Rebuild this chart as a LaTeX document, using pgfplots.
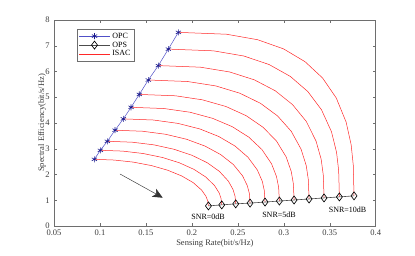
\documentclass[border=0pt]{standalone}
\usepackage{pgfplots}
\pgfplotsset{compat=1.18}
\usepackage{fontspec}
\setmainfont{Liberation Serif}
\usetikzlibrary{arrows.meta}
\definecolor{isac}{RGB}{255,40,40}
\definecolor{opcline}{RGB}{80,80,200}
\definecolor{opcmark}{RGB}{25,25,140}
\definecolor{axgray}{RGB}{110,110,110}
\definecolor{txtgray}{RGB}{60,60,60}
\begin{document}
\begin{tikzpicture}
\useasboundingbox (0,0) rectangle (415pt,255pt);
\begin{axis}[
  at={(54pt,29pt)}, anchor=south west,
  width=321.7pt, height=206pt, scale only axis,
  xmin=0.05, xmax=0.4, ymin=0, ymax=8,
  xtick={0.05,0.1,0.15,0.2,0.25,0.3,0.35,0.4},
  ytick={0,1,2,3,4,5,6,7,8},
  /pgf/number format/assume math mode=true,
  /pgf/number format/fixed,
  tick label style={font=\fontsize{8.5}{10}\selectfont, text=txtgray},
  xticklabel style={yshift=-0.8pt},
  yticklabel style={xshift=-0.8pt},
  label style={font=\fontsize{8.5}{10}\selectfont, text=txtgray},
  axis line style={axgray, line width=0.5pt},
  tick style={axgray, line width=0.4pt},
  major tick length=3pt,
  tick align=inside,
  xlabel={Sensing Rate(bit/s/Hz)},
  ylabel={Spectral Efficiency(bit/s/Hz)},
  xlabel style={at={(axis description cs:0.5,-0.0825)}, anchor=center},
  ylabel style={at={(axis description cs:-0.037,0.5)}, anchor=center},
  legend style={at={(axis description cs:0.0715,0.9563)}, anchor=north west,
    font=\fontsize{8}{9}\selectfont, draw=axgray, line width=0.4pt,
    inner sep=1.5pt, row sep=-1.8pt, text=black},
  legend cell align=left,
  legend image code/.code={\draw[mark repeat=2,mark phase=2] plot coordinates {(0pt,0pt) (15.5pt,0pt) (31pt,0pt)};},
]
% ISAC boundaries
\addplot[isac, line width=0.5pt, forget plot] coordinates {(0.0939,2.590)(0.1154,2.562)(0.1363,2.481)(0.1560,2.347)(0.1737,2.166)(0.1890,1.943)(0.2014,1.685)(0.2105,1.399)(0.2153,1.156)(0.2173,0.969)(0.2180,0.780)};
\addplot[isac, line width=0.5pt, forget plot] coordinates {(0.1004,2.940)(0.1247,2.909)(0.1470,2.815)(0.1678,2.663)(0.1863,2.456)(0.2023,2.199)(0.2152,1.901)(0.2247,1.568)(0.2297,1.283)(0.2318,1.059)(0.2325,0.820)};
\addplot[isac, line width=0.5pt, forget plot] coordinates {(0.1080,3.290)(0.1350,3.255)(0.1588,3.151)(0.1806,2.980)(0.2000,2.748)(0.2166,2.460)(0.2299,2.123)(0.2397,1.744)(0.2448,1.416)(0.2470,1.154)(0.2477,0.860)};
\addplot[isac, line width=0.5pt, forget plot] coordinates {(0.1164,3.720)(0.1463,3.680)(0.1715,3.562)(0.1942,3.369)(0.2143,3.104)(0.2313,2.775)(0.2451,2.389)(0.2551,1.951)(0.2603,1.567)(0.2626,1.257)(0.2633,0.890)};
\addplot[isac, line width=0.5pt, forget plot] coordinates {(0.1254,4.160)(0.1583,4.116)(0.1849,3.985)(0.2086,3.770)(0.2293,3.475)(0.2469,3.107)(0.2610,2.672)(0.2712,2.177)(0.2766,1.737)(0.2788,1.375)(0.2796,0.930)};
\addplot[isac, line width=0.5pt, forget plot] coordinates {(0.1338,4.610)(0.1699,4.562)(0.1979,4.419)(0.2225,4.182)(0.2439,3.858)(0.2619,3.452)(0.2762,2.970)(0.2867,2.415)(0.2921,1.917)(0.2944,1.502)(0.2952,0.970)};
\addplot[isac, line width=0.5pt, forget plot] coordinates {(0.1428,5.110)(0.1821,5.057)(0.2115,4.900)(0.2370,4.642)(0.2590,4.286)(0.2773,3.838)(0.2920,3.302)(0.3026,2.682)(0.3081,2.119)(0.3104,1.643)(0.3112,1.010)};
\addplot[isac, line width=0.5pt, forget plot] coordinates {(0.1526,5.670)(0.1952,5.612)(0.2259,5.441)(0.2521,5.158)(0.2746,4.766)(0.2933,4.272)(0.3081,3.679)(0.3188,2.985)(0.3244,2.349)(0.3267,1.802)(0.3275,1.050)};
\addplot[isac, line width=0.5pt, forget plot] coordinates {(0.1635,6.230)(0.2092,6.168)(0.2410,5.983)(0.2679,5.677)(0.2907,5.252)(0.3095,4.715)(0.3244,4.065)(0.3351,3.299)(0.3407,2.588)(0.3430,1.970)(0.3438,1.090)};
\addplot[isac, line width=0.5pt, forget plot] coordinates {(0.1744,6.870)(0.2234,6.803)(0.2564,6.603)(0.2840,6.271)(0.3071,5.810)(0.3261,5.223)(0.3411,4.509)(0.3519,3.660)(0.3574,2.864)(0.3597,2.160)(0.3605,1.130)};
\addplot[isac, line width=0.5pt, forget plot] coordinates {(0.1853,7.520)(0.2376,7.448)(0.2716,7.234)(0.2997,6.879)(0.3231,6.382)(0.3422,5.748)(0.3571,4.971)(0.3678,4.038)(0.3733,3.154)(0.3756,2.362)(0.3764,1.170)};
% OPC
\addplot[opcline, line width=0.5pt, mark=asterisk, mark size=3pt, mark options={opcmark, line width=0.6pt}] coordinates {(0.0939,2.59)(0.1004,2.94)(0.1080,3.29)(0.1164,3.72)(0.1254,4.16)(0.1338,4.61)(0.1428,5.11)(0.1526,5.67)(0.1635,6.23)(0.1744,6.87)(0.1853,7.52)};
\addlegendentry{OPC}
% OPS
\addplot[black!70, line width=0.6pt, mark=diamond, mark size=4pt, mark options={black, fill=white, line width=0.65pt}] coordinates {(0.2180,0.78)(0.2325,0.82)(0.2477,0.86)(0.2633,0.89)(0.2796,0.93)(0.2952,0.97)(0.3112,1.01)(0.3275,1.05)(0.3438,1.09)(0.3605,1.13)(0.3764,1.17)};
\addlegendentry{OPS}
\addlegendimage{isac, line width=0.5pt}
\addlegendentry{ISAC}
% annotations
\draw[black!80, line width=0.45pt, -{Stealth[length=10pt, width=9pt, inset=2.5pt]}] (axis cs:0.1218,2.02) -- (axis cs:0.1683,1.10);
\node[font=\fontsize{8}{9}\selectfont, text=black] at (axis cs:0.2176,0.35) {SNR=0dB};
\node[font=\fontsize{8}{9}\selectfont, text=black] at (axis cs:0.2948,0.455) {SNR=5dB};
\node[font=\fontsize{8}{9}\selectfont, text=black] at (axis cs:0.3694,0.62) {SNR=10dB};
\end{axis}
\end{tikzpicture}
\end{document}
